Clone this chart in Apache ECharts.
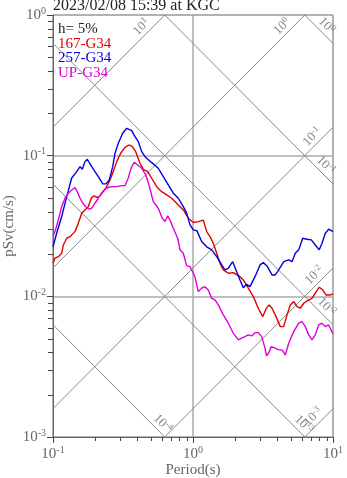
<!DOCTYPE html>
<html><head><meta charset="utf-8">
<script src="https://cdn.jsdelivr.net/npm/echarts@6/dist/echarts.min.js"></script>
<style>html,body{margin:0;padding:0;background:#fff}#c{width:347px;height:478px}</style>
</head><body><div id="c"></div>
<script>
// ---- data (period s, pSv cm/s) ----
const titleText = '2023/02/08 15:39 at KGC';
const dampingText = 'h= 5%';
const seriesNames = ['167-G34', '257-G34', 'UP-G34'];
const spec167 = [[0.1,0.01719],[0.1033,0.01866],[0.1091,0.01915],[0.1154,0.02024],[0.1185,0.02318],[0.1253,0.02588],[0.1323,0.02657],[0.136,0.02588],[0.1436,0.02884],[0.1516,0.03307],[0.1603,0.0390],[0.1692,0.0411],[0.1787,0.0434],[0.189,0.0506],[0.1972,0.0517],[0.2052,0.0506],[0.2141,0.0511],[0.2287,0.0555],[0.2418,0.0602],[0.2553,0.0672],[0.2697,0.0770],[0.2851,0.0907],[0.3044,0.104],[0.3268,0.1147],[0.3491,0.1191],[0.3686,0.1159],[0.3897,0.1068],[0.4183,0.0883],[0.4416,0.0800],[0.4746,0.0770],[0.507,0.0691],[0.5504,0.0602],[0.5976,0.0555],[0.6489,0.0526],[0.7046,0.0498],[0.7852,0.0446],[0.8526,0.0411],[0.9256,0.0359],[1.005,0.0335],[1.091,0.0340],[1.185,0.0348],[1.253,0.02884],[1.323,0.02657],[1.396,0.02384],[1.477,0.02024],[1.56,0.01719],[1.646,0.0154],[1.787,0.01459],[1.94,0.01474],[2.166,0.0138],[2.287,0.01308],[2.483,0.01142],[2.697,0.00995],[2.927,0.00823],[3.146,0.00717],[3.321,0.00814],[3.491,0.00869],[3.667,0.00823],[3.871,0.00738],[4.204,0.00609],[4.445,0.00609],[4.693,0.00738],[4.955,0.00869],[5.24,0.00917],[5.533,0.00845],[5.841,0.00823],[6.175,0.00893],[6.706,0.00943],[7.079,0.00969],[7.474,0.01052],[7.98,0.01161],[8.44,0.0111],[8.913,0.01023],[9.566,0.01023],[10,0.0104]];
const spec257 = [[0.1,0.0225],[0.1063,0.0282],[0.1154,0.0369],[0.1253,0.0511],[0.136,0.0694],[0.1477,0.0770],[0.156,0.0835],[0.162,0.0800],[0.1692,0.0907],[0.1758,0.0943],[0.1816,0.0932],[0.189,0.0835],[0.1995,0.0770],[0.2107,0.0709],[0.2265,0.0630],[0.2391,0.0630],[0.2524,0.0672],[0.267,0.0835],[0.2773,0.104],[0.2927,0.1225],[0.3146,0.1443],[0.336,0.1565],[0.345,0.1591],[0.3649,0.1505],[0.3853,0.1365],[0.4068,0.1257],[0.4301,0.1068],[0.4542,0.0984],[0.507,0.0892],[0.565,0.0814],[0.6136,0.0709],[0.6661,0.0619],[0.7233,0.0541],[0.7852,0.0498],[0.8526,0.0434],[0.9016,0.0390],[0.952,0.0322],[1.005,0.0297],[1.068,0.0292],[1.153,0.0245],[1.253,0.0225],[1.36,0.0214],[1.477,0.01915],[1.603,0.01672],[1.692,0.0154],[1.787,0.01584],[1.921,0.01764],[2.052,0.01498],[2.166,0.01308],[2.287,0.01153],[2.418,0.01219],[2.553,0.01172],[2.773,0.0138],[3.011,0.01672],[3.178,0.01736],[3.378,0.01645],[3.667,0.01419],[3.871,0.01419],[4.094,0.0154],[4.445,0.01764],[4.826,0.01814],[5.094,0.01764],[5.379,0.02024],[5.689,0.0214],[6.075,0.02588],[6.52,0.02546],[6.998,0.02518],[7.474,0.02318],[7.98,0.0214],[8.344,0.02384],[8.81,0.02808],[9.318,0.0300],[10,0.02884]];
const specUP = [[0.1,0.02657],[0.1051,0.0305],[0.1091,0.0349],[0.1154,0.0434],[0.1218,0.0498],[0.1286,0.0541],[0.1383,0.0577],[0.1436,0.0593],[0.1491,0.0555],[0.156,0.0498],[0.1646,0.0454],[0.1741,0.0427],[0.1816,0.0416],[0.189,0.0423],[0.1995,0.0459],[0.2107,0.0498],[0.2228,0.0546],[0.2351,0.0577],[0.2483,0.0596],[0.2697,0.0602],[0.2851,0.0602],[0.3095,0.0612],[0.3268,0.0614],[0.3322,0.0602],[0.345,0.0694],[0.3548,0.0770],[0.3649,0.0835],[0.3808,0.0898],[0.4027,0.0859],[0.4301,0.0814],[0.4595,0.0729],[0.4851,0.0619],[0.5204,0.0471],[0.565,0.0423],[0.6035,0.0359],[0.631,0.0340],[0.6596,0.0373],[0.6849,0.0349],[0.7233,0.0305],[0.7775,0.02588],[0.8075,0.0214],[0.8526,0.02024],[0.9016,0.01645],[0.952,0.01626],[0.9788,0.01584],[1.005,0.01459],[1.033,0.01374],[1.063,0.01205],[1.091,0.0108],[1.153,0.01142],[1.218,0.01172],[1.286,0.0111],[1.36,0.00969],[1.436,0.00943],[1.516,0.00869],[1.646,0.00738],[1.787,0.00644],[1.94,0.00547],[2.107,0.0049],[2.228,0.00504],[2.351,0.00517],[2.483,0.00532],[2.627,0.00523],[2.773,0.00552],[2.927,0.00552],[3.095,0.00517],[3.268,0.00428],[3.35,0.00377],[3.462,0.00394],[3.625,0.00439],[3.871,0.00428],[4.094,0.00416],[4.322,0.00416],[4.563,0.00383],[4.826,0.00464],[5.24,0.00561],[5.689,0.00644],[6.005,0.00661],[6.34,0.00609],[6.706,0.00532],[7.079,0.0049],[7.474,0.00532],[7.905,0.00626],[8.344,0.00644],[8.81,0.00609],[9.318,0.00626],[10,0.0054]];
// tripartite guide levels
const accelLevels = [10, 1, 0.1, 0.01, 0.001];      // cm/s^2 (rising lines)
const dispLevels = [1, 0.1, 0.01, 0.001, 0.0001];   // cm (falling lines)
const accelLabelPeriods = [0.47, 4.75, 7.8, 8.07, 7.94];
const dispLabelPeriods = [8.2, 8.07, 8.2, 5.62, 0.553];
const xRange = [0.1, 10];
const yRange = [0.001, 1];

// ---- chart ----
const FONT = 'Liberation Serif';
const TWO_PI = 2 * Math.PI;
const expOf = v => Math.round(Math.log10(v));
const sup = v => '{b|10}{s|' + expOf(v) + '}';
const richAxis = { b: { fontSize: 15, fontFamily: FONT, color: '#666', lineHeight: 18 },
                   s: { fontSize: 10, fontFamily: FONT, color: '#666', verticalAlign: 'top', lineHeight: 10 } };
const richDiag = { b: { fontSize: 13, fontFamily: FONT, color: '#666', lineHeight: 15 },
                   s: { fontSize: 9, fontFamily: FONT, color: '#666', verticalAlign: 'top', lineHeight: 9 } };
const guideStyle = { color: '#888', width: 1 };

const series = [];
accelLevels.forEach(a => {
  series.push({ type: 'line', data: xRange.map(t => [t, a * t / TWO_PI]), symbol: 'none', silent: true,
    lineStyle: guideStyle, z: 1, animation: false });
});
dispLevels.forEach(d => {
  series.push({ type: 'line', data: xRange.map(t => [t, TWO_PI * d / t]), symbol: 'none', silent: true,
    lineStyle: guideStyle, z: 1, animation: false });
});
// guide labels
series.push({ type: 'scatter', symbolSize: 1, itemStyle: { color: 'rgba(0,0,0,0)' }, silent: true, clip: false, z: 2,
  data: accelLevels.map((a, i) => ({ value: [accelLabelPeriods[i], a * accelLabelPeriods[i] / TWO_PI], lv: a })),
  label: { show: true, position: 'inside', rotate: 45, offset: [0, -8], rich: richDiag,
    formatter: p => sup(p.data.lv) } });
series.push({ type: 'scatter', symbolSize: 1, itemStyle: { color: 'rgba(0,0,0,0)' }, silent: true, clip: false, z: 2,
  data: dispLevels.map((d, i) => ({ value: [dispLabelPeriods[i], TWO_PI * d / dispLabelPeriods[i]], lv: d })),
  label: { show: true, position: 'inside', rotate: -45, offset: [0, -8], rich: richDiag,
    formatter: p => sup(p.data.lv) } });
// spectra
const colors = ['#e00000', '#0000e0', '#dd00dd'];
[spec167, spec257, specUP].forEach((d, i) => {
  series.push({ name: seriesNames[i], type: 'line', data: d, symbol: 'none', smooth: false,
    lineStyle: { color: colors[i], width: 1.4 }, z: 5, animation: false });
});

const chart = echarts.init(document.getElementById('c'), null, { renderer: 'canvas' });
chart.setOption({
  animation: false,
  grid: { left: 53, right: 14, top: 15, bottom: 41, show: true, borderColor: '#999', borderWidth: 1,
    containLabel: false, outerBoundsMode: 'none' },
  xAxis: { type: 'log', logBase: 10, min: xRange[0], max: xRange[1],
    name: 'Period(s)', nameLocation: 'middle', nameGap: 26, nameMoveOverlap: false,
    nameTextStyle: { fontFamily: FONT, fontSize: 15, color: '#666' },
    axisLine: { lineStyle: { color: '#666' } },
    axisTick: { show: true, length: 6, lineStyle: { color: '#444' } },
    axisLabel: { margin: 8, formatter: v => sup(v), rich: richAxis },
    splitLine: { show: true, lineStyle: { color: '#aaa', width: 1.5 } },
    minorTick: { show: false } },
  yAxis: { type: 'log', logBase: 10, min: yRange[0], max: yRange[1],
    name: 'pSv(cm/s)', nameLocation: 'middle', nameGap: 36, nameRotate: 90, nameMoveOverlap: false,
    nameTextStyle: { fontFamily: FONT, fontSize: 15, color: '#666' },
    axisLine: { lineStyle: { color: '#666' } },
    axisTick: { show: true, length: 6, lineStyle: { color: '#444' } },
    axisLabel: { margin: 7, formatter: v => sup(v), rich: richAxis },
    splitLine: { show: true, lineStyle: { color: '#aaa', width: 1.5 } } },
  series: series
});
// text + minor ticks (2..9 within each decade), positioned with the axes' own scales
const graphics = [
  { type: 'text', x: 53, y: 6, style: { text: titleText, font: '16px ' + FONT, fill: '#222', verticalAlign: 'middle' }, z: 10 },
  { type: 'text', x: 58, y: 29, style: { text: dampingText, font: '15px ' + FONT, fill: '#222', verticalAlign: 'middle' }, z: 10 },
  { type: 'text', x: 58, y: 44, style: { text: seriesNames[0], font: '15px ' + FONT, fill: colors[0], verticalAlign: 'middle' }, z: 10 },
  { type: 'text', x: 58, y: 58.5, style: { text: seriesNames[1], font: '15px ' + FONT, fill: colors[1], verticalAlign: 'middle' }, z: 10 },
  { type: 'text', x: 58, y: 73, style: { text: seriesNames[2], font: '15px ' + FONT, fill: colors[2], verticalAlign: 'middle' }, z: 10 }
];
for (let n = -3; n <= -1; n++) for (let k = 2; k <= 9; k++) {
  const p = chart.convertToPixel({ gridIndex: 0 }, [xRange[0], k * Math.pow(10, n)]);
  const x = Math.round(p[0]), y = Math.round(p[1]);
  graphics.push({ type: 'rect', shape: { x: x - 5, y: y, width: 5, height: 1 }, style: { fill: '#444' }, z: 10, silent: true });
}
for (let n = -1; n <= 0; n++) for (let k = 2; k <= 9; k++) {
  const p = chart.convertToPixel({ gridIndex: 0 }, [k * Math.pow(10, n), yRange[0]]);
  const x = Math.round(p[0]), y = Math.round(p[1]);
  graphics.push({ type: 'rect', shape: { x: x, y: y, width: 1, height: 4 }, style: { fill: '#444' }, z: 10, silent: true });
}
chart.setOption({ graphic: graphics });
</script></body></html>
